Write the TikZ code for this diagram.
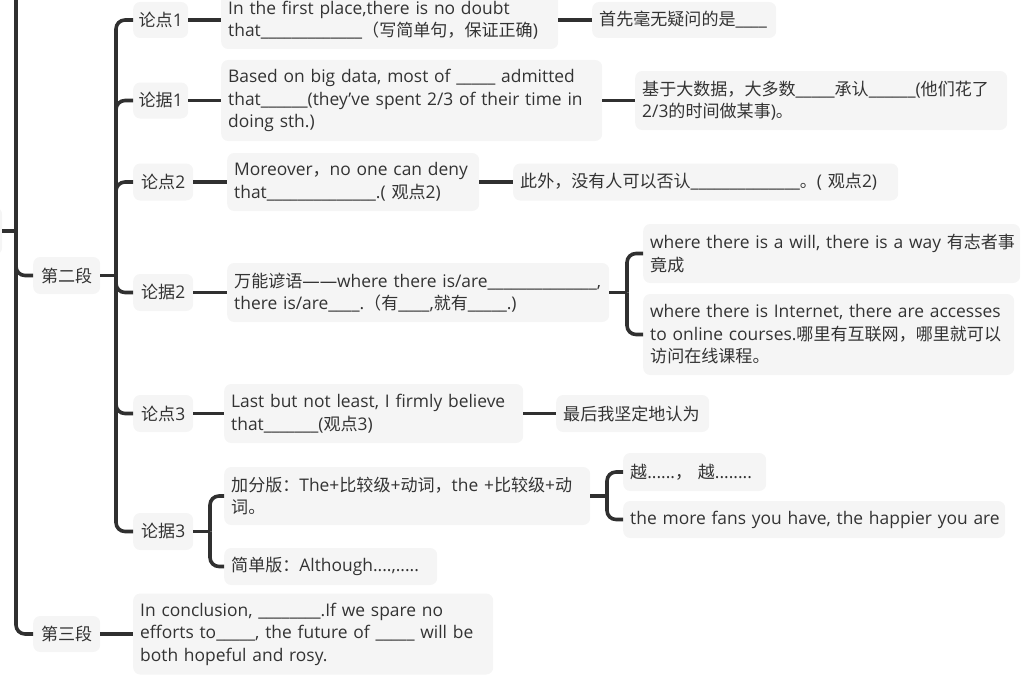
\documentclass[tikz,border=0pt]{standalone}
\usepackage{fontspec}
\setmainfont{Open Sans}
\newfontfamily\zhfont{Noto Sans CJK SC}[Scale=0.98]
\XeTeXinterchartokenstate=1
\chardef\zhclass=9
\count255="3000
\loop\ifnum\count255<"A000
  \XeTeXcharclass\count255=\zhclass
  \advance\count255 by 1
\repeat
\count255="FF00
\loop\ifnum\count255<"FFF0
  \XeTeXcharclass\count255=\zhclass
  \advance\count255 by 1
\repeat
\XeTeXinterchartoks 0 \zhclass={\zhfont}
\XeTeXinterchartoks 4095 \zhclass={\zhfont}
\XeTeXinterchartoks \zhclass 0={\rmfamily}
\XeTeXinterchartoks \zhclass 4095={\rmfamily}
\definecolor{ink}{HTML}{333333}
\definecolor{wire}{HTML}{303030}
\definecolor{paper}{HTML}{F5F5F5}
\newcommand\blank[1]{\foreach\k in {1,...,#1}{\_}}

\begin{document}
\begin{tikzpicture}[x=1pt,y=1pt,yscale=-1,
    every node/.style={font=\fontsize{17.4}{22.5}\selectfont,text=ink},
    tag/.style={fill=paper,rounded corners=7pt,anchor=west,inner xsep=3pt,inner ysep=0pt},
    topic/.style={fill=paper,rounded corners=7pt,anchor=west,align=left,inner xsep=7pt,inner ysep=0pt},
    link/.style={draw=wire,line width=3.6pt,rounded corners=9pt}]
\useasboundingbox (0,0) rectangle (1027,677);

\node[tag,minimum width=60,minimum height=47] (root) at (-58,231) {};
\node[tag,minimum width=67,minimum height=37] (d2) at (33,275.5) {第二段};
\node[tag,minimum width=67,minimum height=36] (d3) at (33,634) {第三段};

\node[tag,minimum width=55,minimum height=36] (lp1) at (133,20) {论点1};
\node[tag,minimum width=55,minimum height=36] (lj1) at (133,100.5) {论据1};
\node[tag,minimum width=60,minimum height=37] (lp2) at (133,182) {论点2};
\node[tag,minimum width=60,minimum height=37] (lj2) at (133,292.5) {论据2};
\node[tag,minimum width=60,minimum height=37] (lp3) at (133,413.5) {论点3};
\node[tag,minimum width=60,minimum height=37] (lj3) at (133,531.5) {论据3};

\node[topic,text width=323,minimum height=58] (t1) at (221,20) {In the first place,there is no doubt\\that\blank{13}（写简单句，保证正确)};
\node[topic,text width=170,minimum height=36] (t1cn) at (592,20) {首先毫无疑问的是\blank{4}};
\node[topic,text width=367,minimum height=81] (t2) at (221,100.5) {Based on big data, most of \blank{5} admitted\\that\blank{6}(they've spent 2/3 of their time in\\doing sth.)};
\node[topic,text width=358,minimum height=59] (t2cn) at (635,100.5) {基于大数据，大多数\blank{5}承认\blank{6}(他们花了\\2/3的时间做某事)。};
\node[topic,text width=238,minimum height=58] (t3) at (227,182) {Moreover，no one can deny\\that\blank{14}.( 观点2)};
\node[topic,text width=371,minimum height=37] (t3cn) at (513,182) {此外，没有人可以否认\blank{14}。( 观点2)};
\node[topic,text width=368,minimum height=59] (t4) at (227,292.5) {万能谚语——where there is/are\blank{14},\\there is/are\blank{4}.（有\blank{4},就有\blank{5}.)};
\node[topic,text width=363,minimum height=59] (t4a) at (643,253.5) {\mbox{where there is a will, there is a way 有志者事}\\竟成};
\node[topic,text width=357,minimum height=81] (t4b) at (643,334.5) {where there is Internet, there are accesses\\to online courses.哪里有互联网，哪里就可以\\访问在线课程。};
\node[topic,text width=285,minimum height=59] (t5) at (224,413.5) {Last but not least, I firmly believe\\that\blank{7}(观点3)};
\node[topic,text width=139,minimum height=37] (t5cn) at (556,413.5) {最后我坚定地认为};
\node[topic,text width=352,minimum height=58] (t6) at (224,496) {加分版：The+比较级+动词，the +比较级+动\\词。};
\node[topic,text width=129,minimum height=38] (t6a) at (623,472) {越......， 越........};
\node[topic,text width=368,minimum height=37] (t6b) at (623,519.5) {\mbox{the more fans you have, the happier you are}};
\node[topic,text width=199,minimum height=37] (t6c) at (224,566.5) {简单版：Although....,.....};
\node[topic,text width=346,minimum height=81] (t7) at (133,634) {In conclusion, \blank{8}.If we spare no\\efforts to\blank{5}, the future of \blank{5} will be\\both hopeful and rosy.};

\coordinate (top) at (16,-12);
\coordinate (j0) at (16,231);
\coordinate (j1) at (116,275.5);
\coordinate (j2) at (627,292.5);
\coordinate (j3) at (210,531.5);
\coordinate (j4) at (607,496);

\draw[link] (root.east) -- (j0);
\draw[link] (top) |- (d3.west);
\draw[link] (j0) |- (d2.west);
\draw[link] (d2.east) -- (j1);
\foreach \n in {lp1,lj1,lp2,lj2,lp3,lj3}
  \draw[link] (j1) |- (\n.west);
\draw[link] (lp1.east) -- (t1.west);
\draw[link] (t1.east) -- (t1cn.west);
\draw[link] (lj1.east) -- (t2.west);
\draw[link] (t2.east) -- (t2cn.west);
\draw[link] (lp2.east) -- (t3.west);
\draw[link] (t3.east) -- (t3cn.west);
\draw[link] (lj2.east) -- (t4.west);
\draw[link] (t4.east) -- (j2);
\draw[link] (j2) |- (t4a.west);
\draw[link] (j2) |- (t4b.west);
\draw[link] (lp3.east) -- (t5.west);
\draw[link] (t5.east) -- (t5cn.west);
\draw[link] (lj3.east) -- (j3);
\draw[link] (j3) |- (t6.west);
\draw[link] (j3) |- (t6c.west);
\draw[link] (t6.east) -- (j4);
\draw[link] (j4) |- (t6a.west);
\draw[link] (j4) |- (t6b.west);
\draw[link] (d3.east) -- (t7.west);
\end{tikzpicture}
\end{document}
